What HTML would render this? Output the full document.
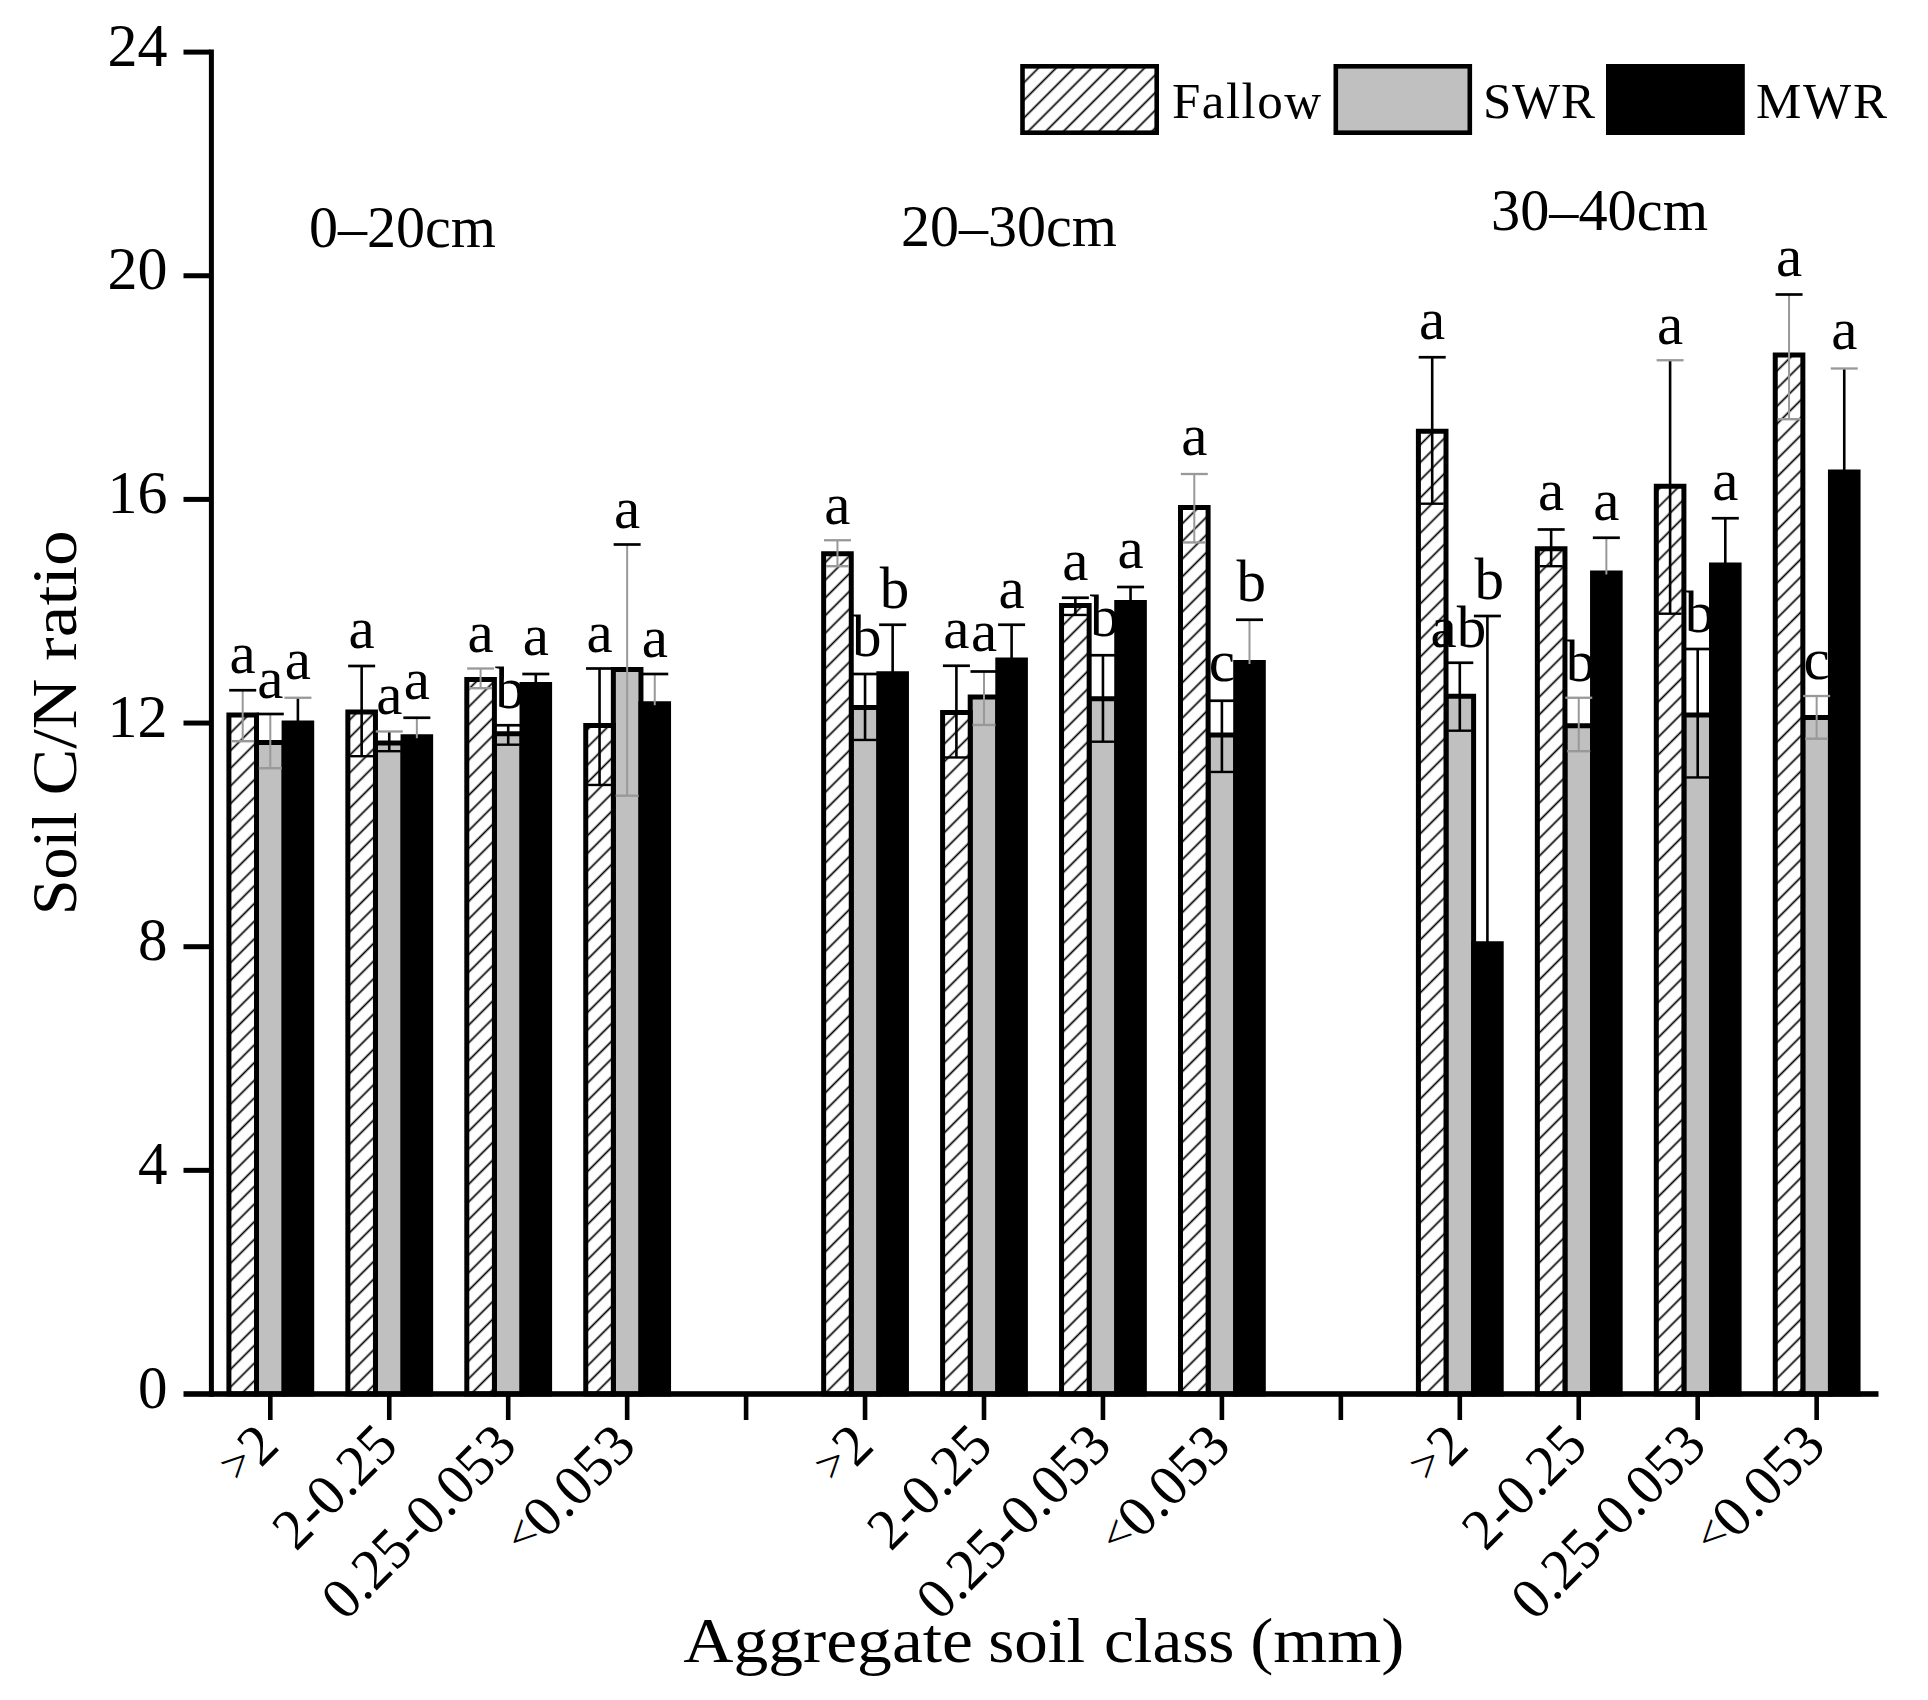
<!DOCTYPE html>
<html lang="en"><head><meta charset="utf-8"><title>Soil C/N ratio by aggregate soil class</title>
<style>html,body{margin:0;padding:0;background:#fff}svg{display:block}text{font-family:"Liberation Serif", "DejaVu Serif", serif;fill:#000}</style></head><body>
<svg width="1928" height="1700" viewBox="0 0 1928 1700">
<defs><pattern id="hatch" patternUnits="userSpaceOnUse" width="12.5" height="12.5" patternTransform="rotate(-45)"><rect x="0" y="0" width="12.5" height="12.5" fill="#fff"/><rect x="0" y="5.4" width="12.5" height="1.7" fill="#000"/></pattern><pattern id="hatchL" patternUnits="userSpaceOnUse" width="12.5" height="12.5" patternTransform="translate(1.6 0) rotate(-45)"><rect x="0" y="0" width="12.5" height="12.5" fill="#fff"/><rect x="0" y="5.4" width="12.5" height="1.7" fill="#000"/></pattern></defs>
<rect x="0" y="0" width="1928" height="1700" fill="#fff"/>
<g stroke="#000" stroke-width="5.00">
<rect x="256.50" y="742.50" width="27.60" height="651.50" fill="#c0c0c0"/>
<rect x="228.90" y="715.00" width="27.60" height="679.00" fill="url(#hatch)"/>
<rect x="284.10" y="723.00" width="27.60" height="671.00" fill="#000"/>
<rect x="375.45" y="743.00" width="27.60" height="651.00" fill="#c0c0c0"/>
<rect x="347.85" y="712.00" width="27.60" height="682.00" fill="url(#hatch)"/>
<rect x="403.05" y="736.75" width="27.60" height="657.25" fill="#000"/>
<rect x="494.40" y="733.75" width="27.60" height="660.25" fill="#c0c0c0"/>
<rect x="466.80" y="679.50" width="27.60" height="714.50" fill="url(#hatch)"/>
<rect x="522.00" y="684.50" width="27.60" height="709.50" fill="#000"/>
<rect x="613.35" y="669.50" width="27.60" height="724.50" fill="#c0c0c0"/>
<rect x="585.75" y="725.50" width="27.60" height="668.50" fill="url(#hatch)"/>
<rect x="640.95" y="703.75" width="27.60" height="690.25" fill="#000"/>
<rect x="851.25" y="707.50" width="27.60" height="686.50" fill="#c0c0c0"/>
<rect x="823.65" y="553.75" width="27.60" height="840.25" fill="url(#hatch)"/>
<rect x="878.85" y="673.75" width="27.60" height="720.25" fill="#000"/>
<rect x="970.20" y="697.00" width="27.60" height="697.00" fill="#c0c0c0"/>
<rect x="942.60" y="712.50" width="27.60" height="681.50" fill="url(#hatch)"/>
<rect x="997.80" y="660.00" width="27.60" height="734.00" fill="#000"/>
<rect x="1089.15" y="698.75" width="27.60" height="695.25" fill="#c0c0c0"/>
<rect x="1061.55" y="605.50" width="27.60" height="788.50" fill="url(#hatch)"/>
<rect x="1116.75" y="602.50" width="27.60" height="791.50" fill="#000"/>
<rect x="1208.10" y="735.00" width="27.60" height="659.00" fill="#c0c0c0"/>
<rect x="1180.50" y="507.50" width="27.60" height="886.50" fill="url(#hatch)"/>
<rect x="1235.70" y="662.50" width="27.60" height="731.50" fill="#000"/>
<rect x="1446.00" y="696.25" width="27.60" height="697.75" fill="#c0c0c0"/>
<rect x="1418.40" y="431.25" width="27.60" height="962.75" fill="url(#hatch)"/>
<rect x="1473.60" y="943.75" width="27.60" height="450.25" fill="#000"/>
<rect x="1564.95" y="725.75" width="27.60" height="668.25" fill="#c0c0c0"/>
<rect x="1537.35" y="548.75" width="27.60" height="845.25" fill="url(#hatch)"/>
<rect x="1592.55" y="573.00" width="27.60" height="821.00" fill="#000"/>
<rect x="1683.90" y="715.00" width="27.60" height="679.00" fill="#c0c0c0"/>
<rect x="1656.30" y="486.25" width="27.60" height="907.75" fill="url(#hatch)"/>
<rect x="1711.50" y="565.00" width="27.60" height="829.00" fill="#000"/>
<rect x="1802.85" y="717.50" width="27.60" height="676.50" fill="#c0c0c0"/>
<rect x="1775.25" y="355.00" width="27.60" height="1039.00" fill="url(#hatch)"/>
<rect x="1830.45" y="472.00" width="27.60" height="922.00" fill="#000"/>
</g>
<path d="M242.70 690.25V741.00" stroke="#999" stroke-width="2.0" fill="none"/>
<path d="M229.20 690.25H256.20" stroke="#000" stroke-width="2.7" fill="none"/>
<path d="M231.20 741.20H254.20" stroke="#999" stroke-width="2.4" fill="none"/>
<path d="M270.30 714.00V768.00" stroke="#999" stroke-width="2.0" fill="none"/>
<path d="M256.80 714.00H283.80" stroke="#000" stroke-width="2.7" fill="none"/>
<path d="M258.80 768.20H281.80" stroke="#999" stroke-width="2.4" fill="none"/>
<path d="M297.90 697.75V724.50" stroke="#000" stroke-width="2.6" fill="none"/>
<path d="M284.40 697.75H311.40" stroke="#999" stroke-width="2.3" fill="none"/>
<path d="M361.65 666.00V756.00" stroke="#000" stroke-width="2.6" fill="none"/>
<path d="M348.15 666.00H375.15" stroke="#000" stroke-width="2.7" fill="none"/>
<path d="M350.15 756.20H373.15" stroke="#000" stroke-width="2.4" fill="none"/>
<path d="M389.25 731.50V751.00" stroke="#000" stroke-width="2.6" fill="none"/>
<path d="M375.75 731.50H402.75" stroke="#999" stroke-width="2.3" fill="none"/>
<path d="M377.75 751.20H400.75" stroke="#000" stroke-width="2.4" fill="none"/>
<path d="M416.85 717.75V738.25" stroke="#999" stroke-width="2.0" fill="none"/>
<path d="M403.35 717.75H430.35" stroke="#000" stroke-width="2.7" fill="none"/>
<path d="M480.60 668.50V688.00" stroke="#999" stroke-width="2.0" fill="none"/>
<path d="M467.10 668.50H494.10" stroke="#999" stroke-width="2.3" fill="none"/>
<path d="M469.10 688.20H492.10" stroke="#999" stroke-width="2.4" fill="none"/>
<path d="M508.20 725.25V744.50" stroke="#000" stroke-width="2.6" fill="none"/>
<path d="M494.70 725.25H521.70" stroke="#000" stroke-width="2.7" fill="none"/>
<path d="M496.70 744.70H519.70" stroke="#000" stroke-width="2.4" fill="none"/>
<path d="M535.80 674.00V686.00" stroke="#000" stroke-width="2.6" fill="none"/>
<path d="M522.30 674.00H549.30" stroke="#000" stroke-width="2.7" fill="none"/>
<path d="M599.55 668.50V784.75" stroke="#000" stroke-width="2.6" fill="none"/>
<path d="M586.05 668.50H613.05" stroke="#000" stroke-width="2.7" fill="none"/>
<path d="M588.05 784.95H611.05" stroke="#000" stroke-width="2.4" fill="none"/>
<path d="M627.15 544.50V795.50" stroke="#999" stroke-width="2.0" fill="none"/>
<path d="M613.65 544.50H640.65" stroke="#000" stroke-width="2.7" fill="none"/>
<path d="M615.65 795.70H638.65" stroke="#999" stroke-width="2.4" fill="none"/>
<path d="M654.75 674.00V705.25" stroke="#999" stroke-width="2.0" fill="none"/>
<path d="M641.25 674.00H668.25" stroke="#000" stroke-width="2.7" fill="none"/>
<path d="M837.45 540.25V566.00" stroke="#999" stroke-width="2.0" fill="none"/>
<path d="M823.95 540.25H850.95" stroke="#999" stroke-width="2.3" fill="none"/>
<path d="M825.95 566.20H848.95" stroke="#999" stroke-width="2.4" fill="none"/>
<path d="M865.05 674.00V739.75" stroke="#000" stroke-width="2.6" fill="none"/>
<path d="M851.55 674.00H878.55" stroke="#000" stroke-width="2.7" fill="none"/>
<path d="M853.55 739.95H876.55" stroke="#000" stroke-width="2.4" fill="none"/>
<path d="M892.65 624.75V675.25" stroke="#000" stroke-width="2.6" fill="none"/>
<path d="M879.15 624.75H906.15" stroke="#000" stroke-width="2.7" fill="none"/>
<path d="M956.40 665.75V757.25" stroke="#000" stroke-width="2.6" fill="none"/>
<path d="M942.90 665.75H969.90" stroke="#000" stroke-width="2.7" fill="none"/>
<path d="M944.90 757.45H967.90" stroke="#000" stroke-width="2.4" fill="none"/>
<path d="M984.00 671.50V724.75" stroke="#999" stroke-width="2.0" fill="none"/>
<path d="M970.50 671.50H997.50" stroke="#000" stroke-width="2.7" fill="none"/>
<path d="M972.50 724.95H995.50" stroke="#999" stroke-width="2.4" fill="none"/>
<path d="M1011.60 624.75V661.50" stroke="#000" stroke-width="2.6" fill="none"/>
<path d="M998.10 624.75H1025.10" stroke="#000" stroke-width="2.7" fill="none"/>
<path d="M1075.35 597.75V614.75" stroke="#000" stroke-width="2.6" fill="none"/>
<path d="M1061.85 597.75H1088.85" stroke="#000" stroke-width="2.7" fill="none"/>
<path d="M1063.85 614.95H1086.85" stroke="#000" stroke-width="2.4" fill="none"/>
<path d="M1102.95 655.25V741.50" stroke="#000" stroke-width="2.6" fill="none"/>
<path d="M1089.45 655.25H1116.45" stroke="#000" stroke-width="2.7" fill="none"/>
<path d="M1091.45 741.70H1114.45" stroke="#000" stroke-width="2.4" fill="none"/>
<path d="M1130.55 587.00V604.00" stroke="#000" stroke-width="2.6" fill="none"/>
<path d="M1117.05 587.00H1144.05" stroke="#000" stroke-width="2.7" fill="none"/>
<path d="M1194.30 474.00V542.25" stroke="#999" stroke-width="2.0" fill="none"/>
<path d="M1180.80 474.00H1207.80" stroke="#999" stroke-width="2.3" fill="none"/>
<path d="M1182.80 542.45H1205.80" stroke="#999" stroke-width="2.4" fill="none"/>
<path d="M1221.90 700.75V771.75" stroke="#000" stroke-width="2.6" fill="none"/>
<path d="M1208.40 700.75H1235.40" stroke="#000" stroke-width="2.7" fill="none"/>
<path d="M1210.40 771.95H1233.40" stroke="#000" stroke-width="2.4" fill="none"/>
<path d="M1249.50 619.75V664.00" stroke="#999" stroke-width="2.0" fill="none"/>
<path d="M1236.00 619.75H1263.00" stroke="#000" stroke-width="2.7" fill="none"/>
<path d="M1432.20 357.25V503.50" stroke="#000" stroke-width="2.6" fill="none"/>
<path d="M1418.70 357.25H1445.70" stroke="#000" stroke-width="2.7" fill="none"/>
<path d="M1420.70 503.70H1443.70" stroke="#000" stroke-width="2.4" fill="none"/>
<path d="M1459.80 662.75V730.50" stroke="#000" stroke-width="2.6" fill="none"/>
<path d="M1446.30 662.75H1473.30" stroke="#000" stroke-width="2.7" fill="none"/>
<path d="M1448.30 730.70H1471.30" stroke="#000" stroke-width="2.4" fill="none"/>
<path d="M1487.40 616.00V945.25" stroke="#000" stroke-width="2.6" fill="none"/>
<path d="M1473.90 616.00H1500.90" stroke="#000" stroke-width="2.7" fill="none"/>
<path d="M1551.15 529.50V566.00" stroke="#000" stroke-width="2.6" fill="none"/>
<path d="M1537.65 529.50H1564.65" stroke="#000" stroke-width="2.7" fill="none"/>
<path d="M1539.65 566.20H1562.65" stroke="#000" stroke-width="2.4" fill="none"/>
<path d="M1578.75 697.75V751.00" stroke="#999" stroke-width="2.0" fill="none"/>
<path d="M1565.25 697.75H1592.25" stroke="#999" stroke-width="2.3" fill="none"/>
<path d="M1567.25 751.20H1590.25" stroke="#999" stroke-width="2.4" fill="none"/>
<path d="M1606.35 537.75V574.50" stroke="#999" stroke-width="2.0" fill="none"/>
<path d="M1592.85 537.75H1619.85" stroke="#000" stroke-width="2.7" fill="none"/>
<path d="M1670.10 360.25V613.50" stroke="#000" stroke-width="2.6" fill="none"/>
<path d="M1656.60 360.25H1683.60" stroke="#999" stroke-width="2.3" fill="none"/>
<path d="M1658.60 613.70H1681.60" stroke="#000" stroke-width="2.4" fill="none"/>
<path d="M1697.70 649.00V777.25" stroke="#000" stroke-width="2.6" fill="none"/>
<path d="M1684.20 649.00H1711.20" stroke="#000" stroke-width="2.7" fill="none"/>
<path d="M1686.20 777.45H1709.20" stroke="#000" stroke-width="2.4" fill="none"/>
<path d="M1725.30 518.25V566.50" stroke="#000" stroke-width="2.6" fill="none"/>
<path d="M1711.80 518.25H1738.80" stroke="#000" stroke-width="2.7" fill="none"/>
<path d="M1789.05 294.50V419.00" stroke="#999" stroke-width="2.0" fill="none"/>
<path d="M1775.55 294.50H1802.55" stroke="#000" stroke-width="2.7" fill="none"/>
<path d="M1777.55 419.20H1800.55" stroke="#999" stroke-width="2.4" fill="none"/>
<path d="M1816.65 696.00V738.50" stroke="#999" stroke-width="2.0" fill="none"/>
<path d="M1803.15 696.00H1830.15" stroke="#999" stroke-width="2.3" fill="none"/>
<path d="M1805.15 738.70H1828.15" stroke="#999" stroke-width="2.4" fill="none"/>
<path d="M1844.25 368.50V473.50" stroke="#000" stroke-width="2.6" fill="none"/>
<path d="M1830.75 368.50H1857.75" stroke="#999" stroke-width="2.3" fill="none"/>
<g fill="#000">
<rect x="208.9" y="49.5" width="5" height="1347.30"/>
<rect x="183.5" y="1391.20" width="1695.00" height="5.6"/>
<rect x="183.5" y="1167.85" width="27" height="5"/>
<rect x="183.5" y="944.20" width="27" height="5"/>
<rect x="183.5" y="720.55" width="27" height="5"/>
<rect x="183.5" y="496.90" width="27" height="5"/>
<rect x="183.5" y="273.25" width="27" height="5"/>
<rect x="183.5" y="49.60" width="27" height="5"/>
<rect x="268.00" y="1396.00" width="4.6" height="24"/>
<rect x="386.95" y="1396.00" width="4.6" height="24"/>
<rect x="505.90" y="1396.00" width="4.6" height="24"/>
<rect x="624.85" y="1396.00" width="4.6" height="24"/>
<rect x="743.80" y="1396.00" width="4.6" height="24"/>
<rect x="862.75" y="1396.00" width="4.6" height="24"/>
<rect x="981.70" y="1396.00" width="4.6" height="24"/>
<rect x="1100.65" y="1396.00" width="4.6" height="24"/>
<rect x="1219.60" y="1396.00" width="4.6" height="24"/>
<rect x="1338.55" y="1396.00" width="4.6" height="24"/>
<rect x="1457.50" y="1396.00" width="4.6" height="24"/>
<rect x="1576.45" y="1396.00" width="4.6" height="24"/>
<rect x="1695.40" y="1396.00" width="4.6" height="24"/>
<rect x="1814.35" y="1396.00" width="4.6" height="24"/>
</g>
<text x="167.5" y="1407.60" font-size="61.5" text-anchor="end" textLength="29.5" lengthAdjust="spacingAndGlyphs">0</text>
<text x="167.5" y="1183.95" font-size="61.5" text-anchor="end" textLength="29.5" lengthAdjust="spacingAndGlyphs">4</text>
<text x="167.5" y="960.30" font-size="61.5" text-anchor="end" textLength="29.5" lengthAdjust="spacingAndGlyphs">8</text>
<text x="167.5" y="736.65" font-size="61.5" text-anchor="end" textLength="60.0" lengthAdjust="spacingAndGlyphs">12</text>
<text x="167.5" y="513.00" font-size="61.5" text-anchor="end" textLength="60.0" lengthAdjust="spacingAndGlyphs">16</text>
<text x="167.5" y="289.35" font-size="61.5" text-anchor="end" textLength="60.0" lengthAdjust="spacingAndGlyphs">20</text>
<text x="167.5" y="65.70" font-size="61.5" text-anchor="end" textLength="60.0" lengthAdjust="spacingAndGlyphs">24</text>
<text transform="translate(281.30 1448.00) rotate(-45)" font-size="58" text-anchor="end"><tspan font-size="47" dy="-5.5">&gt;</tspan><tspan dy="5.5">2</tspan></text>
<text transform="translate(400.25 1448.00) rotate(-45)" font-size="58" text-anchor="end" textLength="147.5" lengthAdjust="spacingAndGlyphs">2-0.25</text>
<text transform="translate(519.20 1448.00) rotate(-45)" font-size="58" text-anchor="end" textLength="246.5" lengthAdjust="spacingAndGlyphs">0.25-0.053</text>
<text transform="translate(638.15 1448.00) rotate(-45)" font-size="58" text-anchor="end"><tspan font-size="47" dy="-5.5">&lt;</tspan><tspan dy="5.5">0.053</tspan></text>
<text transform="translate(876.05 1448.00) rotate(-45)" font-size="58" text-anchor="end"><tspan font-size="47" dy="-5.5">&gt;</tspan><tspan dy="5.5">2</tspan></text>
<text transform="translate(995.00 1448.00) rotate(-45)" font-size="58" text-anchor="end" textLength="147.5" lengthAdjust="spacingAndGlyphs">2-0.25</text>
<text transform="translate(1113.95 1448.00) rotate(-45)" font-size="58" text-anchor="end" textLength="246.5" lengthAdjust="spacingAndGlyphs">0.25-0.053</text>
<text transform="translate(1232.90 1448.00) rotate(-45)" font-size="58" text-anchor="end"><tspan font-size="47" dy="-5.5">&lt;</tspan><tspan dy="5.5">0.053</tspan></text>
<text transform="translate(1470.80 1448.00) rotate(-45)" font-size="58" text-anchor="end"><tspan font-size="47" dy="-5.5">&gt;</tspan><tspan dy="5.5">2</tspan></text>
<text transform="translate(1589.75 1448.00) rotate(-45)" font-size="58" text-anchor="end" textLength="147.5" lengthAdjust="spacingAndGlyphs">2-0.25</text>
<text transform="translate(1708.70 1448.00) rotate(-45)" font-size="58" text-anchor="end" textLength="246.5" lengthAdjust="spacingAndGlyphs">0.25-0.053</text>
<text transform="translate(1827.65 1448.00) rotate(-45)" font-size="58" text-anchor="end"><tspan font-size="47" dy="-5.5">&lt;</tspan><tspan dy="5.5">0.053</tspan></text>
<text x="242.70" y="672.50" font-size="59" text-anchor="middle">a</text>
<text x="270.30" y="697.50" font-size="59" text-anchor="middle">a</text>
<text x="297.90" y="678.50" font-size="59" text-anchor="middle">a</text>
<text x="361.65" y="648.00" font-size="59" text-anchor="middle">a</text>
<text x="389.25" y="713.50" font-size="59" text-anchor="middle">a</text>
<text x="416.85" y="698.50" font-size="59" text-anchor="middle">a</text>
<text x="480.60" y="652.00" font-size="59" text-anchor="middle">a</text>
<text x="510.00" y="707.50" font-size="59" text-anchor="middle">b</text>
<text x="535.80" y="655.00" font-size="59" text-anchor="middle">a</text>
<text x="599.55" y="652.00" font-size="59" text-anchor="middle">a</text>
<text x="627.15" y="528.00" font-size="59" text-anchor="middle">a</text>
<text x="654.75" y="656.50" font-size="59" text-anchor="middle">a</text>
<text x="837.45" y="523.75" font-size="59" text-anchor="middle">a</text>
<text x="866.85" y="656.25" font-size="59" text-anchor="middle">b</text>
<text x="894.45" y="607.50" font-size="59" text-anchor="middle">b</text>
<text x="956.40" y="647.50" font-size="59" text-anchor="middle">a</text>
<text x="984.00" y="651.25" font-size="59" text-anchor="middle">a</text>
<text x="1011.60" y="607.50" font-size="59" text-anchor="middle">a</text>
<text x="1075.35" y="580.00" font-size="59" text-anchor="middle">a</text>
<text x="1104.75" y="636.25" font-size="59" text-anchor="middle">b</text>
<text x="1130.55" y="567.50" font-size="59" text-anchor="middle">a</text>
<text x="1194.30" y="455.00" font-size="59" text-anchor="middle">a</text>
<text x="1221.90" y="681.25" font-size="59" text-anchor="middle">c</text>
<text x="1251.30" y="601.25" font-size="59" text-anchor="middle">b</text>
<text x="1432.20" y="338.75" font-size="59" text-anchor="middle">a</text>
<text x="1458.30" y="646.50" font-size="59" text-anchor="middle">ab</text>
<text x="1489.20" y="598.75" font-size="59" text-anchor="middle">b</text>
<text x="1551.15" y="510.00" font-size="59" text-anchor="middle">a</text>
<text x="1580.55" y="681.25" font-size="59" text-anchor="middle">b</text>
<text x="1606.35" y="520.00" font-size="59" text-anchor="middle">a</text>
<text x="1670.10" y="343.75" font-size="59" text-anchor="middle">a</text>
<text x="1699.50" y="632.00" font-size="59" text-anchor="middle">b</text>
<text x="1725.30" y="500.00" font-size="59" text-anchor="middle">a</text>
<text x="1789.05" y="276.25" font-size="59" text-anchor="middle">a</text>
<text x="1816.65" y="678.75" font-size="59" text-anchor="middle">c</text>
<text x="1844.25" y="348.75" font-size="59" text-anchor="middle">a</text>
<text x="309" y="247.2" font-size="60" textLength="187" lengthAdjust="spacingAndGlyphs">0–20cm</text>
<text x="901" y="245.8" font-size="60" textLength="216" lengthAdjust="spacingAndGlyphs">20–30cm</text>
<text x="1491" y="229.8" font-size="60" textLength="217" lengthAdjust="spacingAndGlyphs">30–40cm</text>
<g stroke="#000" stroke-width="4.6">
<rect x="1022.5" y="66.3" width="134.2" height="66.4" fill="url(#hatchL)"/>
<rect x="1335.8" y="66.3" width="134" height="66.4" fill="#c0c0c0"/>
<rect x="1608.3" y="66.3" width="134.2" height="66.4" fill="#000"/>
</g>
<text x="1172" y="117.5" font-size="51" textLength="149" lengthAdjust="spacing">Fallow</text>
<text x="1483" y="117.5" font-size="51" textLength="112" lengthAdjust="spacing">SWR</text>
<text x="1756" y="117.5" font-size="51" textLength="131" lengthAdjust="spacing">MWR</text>
<text x="683.2" y="1661.5" font-size="64" textLength="289.8" lengthAdjust="spacingAndGlyphs">Aggregate</text>
<text x="988.3" y="1661.5" font-size="64" textLength="96.7" lengthAdjust="spacingAndGlyphs">soil</text>
<text x="1103.9" y="1661.5" font-size="64" textLength="130.6" lengthAdjust="spacingAndGlyphs">class</text>
<text x="1250.2" y="1661.5" font-size="64" textLength="154.2" lengthAdjust="spacingAndGlyphs">(mm)</text>
<text transform="translate(76 915.0) rotate(-90)" font-size="64" textLength="103.2" lengthAdjust="spacingAndGlyphs">Soil</text>
<text transform="translate(76 795.6) rotate(-90)" font-size="64" textLength="117.1" lengthAdjust="spacingAndGlyphs">C/N</text>
<text transform="translate(76 661.0) rotate(-90)" font-size="64" textLength="130.7" lengthAdjust="spacingAndGlyphs">ratio</text>
</svg></body></html>
